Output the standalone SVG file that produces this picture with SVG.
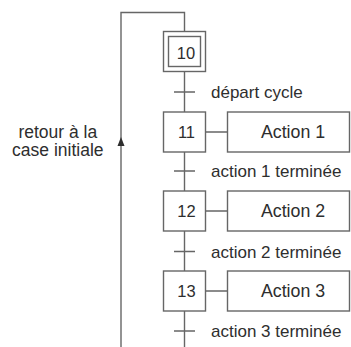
<svg xmlns="http://www.w3.org/2000/svg" width="351" height="347" viewBox="0 0 351 347">
<style>
.ln{fill:none;stroke:#666;stroke-width:1.4}
.bx{fill:#fff;stroke:#666;stroke-width:1.4}
.t{font-family:"Liberation Sans",Arial,sans-serif;font-size:17px;fill:#2e2e2e}
.c{font-family:"Liberation Sans",Arial,sans-serif;font-size:17.8px;fill:#2e2e2e;text-anchor:middle}
.n{font-family:"Liberation Sans",Arial,sans-serif;font-size:16.5px;fill:#2e2e2e;text-anchor:middle}
.a{font-family:"Liberation Sans",Arial,sans-serif;font-size:17.5px;fill:#2e2e2e;text-anchor:middle}
</style>
<rect width="351" height="347" fill="#fff"/>
<g id="connectors">
<path class="ln" d="M121,347 V12.5 H184.5 V31.5"/>
<path d="M121,137 L117.5,146 L124.5,146 Z" fill="#2e2e2e"/>
<path class="ln" d="M184.5,71.5 V112 M184.5,152 V191 M184.5,231 V271 M184.5,311 V347"/>
<path class="ln" d="M174,92 H195 M174,171 H195 M174,251.5 H195 M174,331 H195"/>
<path class="ln" d="M205.5,132 H227.5 M205.5,211 H227.5 M205.5,291 H227.5"/>
</g>
<g id="step10">
<rect class="bx" x="163.5" y="31.5" width="42" height="40"/>
<rect class="bx" x="168.5" y="36.5" width="32" height="30"/>
<text class="n" x="186" y="59">10</text>
</g>
<g id="step11">
<rect class="bx" x="163.5" y="112" width="42" height="40"/>
<text class="n" x="186.5" y="138">11</text>
</g>
<g id="step12">
<rect class="bx" x="163.5" y="191" width="42" height="40"/>
<text class="n" x="186.5" y="217">12</text>
</g>
<g id="step13">
<rect class="bx" x="163.5" y="271" width="42" height="40"/>
<text class="n" x="186.5" y="297">13</text>
</g>
<g id="action1">
<rect class="bx" x="227.5" y="112" width="122" height="40"/>
<text class="c" x="293" y="138.3">Action 1</text>
</g>
<g id="action2">
<rect class="bx" x="227.5" y="191" width="122" height="40"/>
<text class="c" x="293" y="217.3">Action 2</text>
</g>
<g id="action3">
<rect class="bx" x="227.5" y="271" width="122" height="40"/>
<text class="c" x="293" y="297.3">Action 3</text>
</g>
<g id="labels">
<text class="t" x="211" y="97.5">départ cycle</text>
<text class="t" x="211" y="177">action 1 terminée</text>
<text class="t" x="211" y="257.5">action 2 terminée</text>
<text class="t" x="211" y="337">action 3 terminée</text>
<text class="a" x="57.8" y="137.5">retour à la</text>
<text class="a" x="57.8" y="156">case initiale</text>
</g>
</svg>
